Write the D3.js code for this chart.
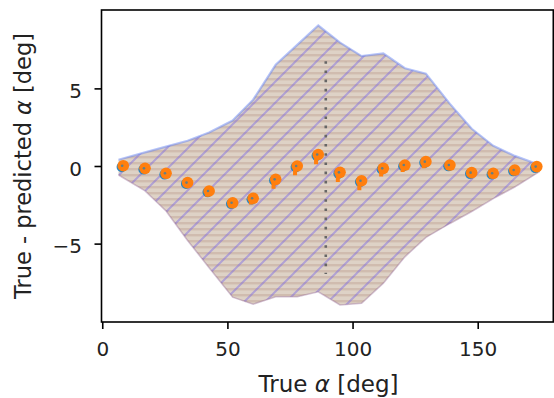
<!DOCTYPE html>
<html>
<head>
<meta charset="utf-8">
<script src="https://cdn.jsdelivr.net/npm/d3@7"></script>
<style>
  body { margin: 0; background: #fff; }
  svg { display: block; }
  text { font-family: "DejaVu Sans", sans-serif; }
</style>
</head>
<body>
<svg id="chart" width="554" height="398"></svg>
<script>
// Binned residuals: mean of (true - predicted) per true-angle bin
const meanX    = [8.4, 17.1, 25.5, 34.1, 42.7, 52.1, 60.3, 69.3, 77.9, 86.3, 95.0, 103.6, 112.3, 120.9, 129.3, 138.9, 147.6, 156.2, 164.8, 173.6];
const meanY    = [0.02, -0.15, -0.47, -1.07, -1.61, -2.37, -2.08, -0.86, 0.0, 0.74, -0.41, -0.95, -0.15, 0.06, 0.28, 0.06, -0.43, -0.47, -0.26, -0.04];
const meanErrLow = [0.2, 0.2, 0.25, 0.25, 0.37, 0.3, 0.4, 0.6, 0.6, 0.62, 0.62, 0.62, 0.52, 0.45, 0.42, 0.2, 0.2, 0.2, 0.2, 0.2];

// Second estimator (drawn underneath)
const altX = [7.8, 16.5, 24.9, 33.5, 42.1, 51.5, 59.7, 68.7, 77.3, 85.7, 94.4, 103.0, 111.7, 120.3, 128.7, 138.3, 147.0, 155.6, 164.2, 173.0];
const altY = [-0.06, -0.22, -0.54, -1.14, -1.68, -2.44, -2.15, -0.93, -0.07, 0.67, -0.48, -1.02, -0.22, -0.01, 0.21, -0.01, -0.5, -0.54, -0.33, -0.11];

// Spread envelope of the residuals
const bandX     = [6.5, 17.1, 25.5, 34.1, 42.7, 52.1, 60.3, 69.3, 77.9, 86.3, 95.0, 103.6, 112.3, 120.9, 129.3, 138.9, 147.6, 156.2, 164.8, 174.8];
const bandUpper = [0.40, 0.88, 1.25, 1.63, 2.16, 2.93, 4.27, 6.52, 7.80, 9.05, 7.95, 7.08, 7.25, 6.30, 5.95, 4.00, 2.40, 1.30, 0.65, 0.07];
const bandLower = [-0.58, -1.60, -2.90, -4.80, -6.55, -8.45, -8.90, -8.42, -8.42, -8.10, -8.95, -8.84, -7.55, -5.85, -4.60, -3.70, -2.93, -2.10, -1.35, -0.35];

// Reference line
const dividerX = 89.3;
const dividerSpan = [-6.95, 6.75];

const xTicks = [0, 50, 100, 150];
const yTicks = [-5, 0, 5];
const xDomain = [-0.3, 180.2];
const yDomain = [-10.05, 10.05];

const svg = d3.select("#chart");
const plot = { left: 101.5, right: 553.3, top: 10, bottom: 322 };

const x = d3.scaleLinear().domain(xDomain).range([plot.left, plot.right]);
const y = d3.scaleLinear().domain(yDomain).range([plot.bottom, plot.top]);

const defs = svg.append("defs");
defs.append("clipPath").attr("id", "plotClip")
  .append("rect")
  .attr("x", plot.left).attr("y", plot.top)
  .attr("width", plot.right - plot.left).attr("height", plot.bottom - plot.top);

// Horizontal hatch for the orange envelope
const hpat = defs.append("pattern").attr("id", "hatchH")
  .attr("patternUnits", "userSpaceOnUse").attr("width", 12).attr("height", 6);
hpat.append("rect").attr("x", 0).attr("y", 0).attr("width", 12).attr("height", 2.4)
  .attr("fill", "rgba(160,110,90,0.22)");

// Diagonal hatch for the blue envelope
const dSp = 21;
const dpat = defs.append("pattern").attr("id", "hatchD")
  .attr("patternUnits", "userSpaceOnUse").attr("width", dSp).attr("height", dSp);
dpat.append("path")
  .attr("d", `M${-dSp},${dSp} L${dSp},${-dSp} M0,${dSp * 2} L${dSp * 2},0 M0,${dSp} L${dSp},0`)
  .attr("stroke", "rgba(115,95,230,0.42)").attr("stroke-width", 2).attr("fill", "none");

const bandData = bandX.map((v, i) => ({ x: v, lo: bandLower[i], hi: bandUpper[i] }));
const area = d3.area().x(d => x(d.x)).y0(d => y(d.lo)).y1(d => y(d.hi));
const lowerLine = d3.line().x(d => x(d.x)).y(d => y(d.lo));
const upperLine = d3.line().x(d => x(d.x)).y(d => y(d.hi));

const g = svg.append("g").attr("clip-path", "url(#plotClip)");

// blue envelope
g.append("path").datum(bandData).attr("d", area)
  .attr("fill", "rgba(31,119,180,0.18)").attr("stroke", "none");
// orange envelope
g.append("path").datum(bandData).attr("d", area)
  .attr("fill", "rgba(255,127,14,0.19)").attr("stroke", "none");
g.append("path").datum(bandData).attr("d", area).attr("fill", "url(#hatchH)");
g.append("path").datum(bandData).attr("d", area).attr("fill", "url(#hatchD)");
// edges
g.append("path").datum(bandData).attr("d", upperLine)
  .attr("fill", "none").attr("stroke", "rgba(105,135,245,0.5)").attr("stroke-width", 2.2);
g.append("path").datum(bandData).attr("d", lowerLine)
  .attr("fill", "none").attr("stroke", "rgba(150,105,150,0.4)").attr("stroke-width", 1.6);

// reference line
g.append("line")
  .attr("x1", x(dividerX)).attr("x2", x(dividerX))
  .attr("y1", y(dividerSpan[1])).attr("y2", y(dividerSpan[0]))
  .attr("stroke", "#666").attr("stroke-width", 2.6)
  .attr("stroke-dasharray", "2.6 6.6");

// second estimator markers
g.selectAll("circle.alt").data(altX).join("circle").attr("class", "alt")
  .attr("cx", (d) => x(d)).attr("cy", (d, i) => y(altY[i]))
  .attr("r", 5.2).attr("fill", "#2b86c0");

// mean residual error stems
g.selectAll("line.stem").data(meanX).join("line").attr("class", "stem")
  .attr("x1", d => x(d) - 2.2).attr("x2", d => x(d) - 2.2)
  .attr("y1", (d, i) => y(meanY[i]))
  .attr("y2", (d, i) => y(meanY[i] - meanErrLow[i]))
  .attr("stroke", "#ff7f0e").attr("stroke-width", 4);

g.selectAll("circle.mean").data(meanX).join("circle").attr("class", "mean")
  .attr("cx", d => x(d)).attr("cy", (d, i) => y(meanY[i]))
  .attr("r", 5.8).attr("fill", "#ff7f0e");

// inner dots
g.selectAll("circle.dot").data(altX).join("circle").attr("class", "dot")
  .attr("cx", d => x(d) + 0.4).attr("cy", (d, i) => y(meanY[i]))
  .attr("r", 1.3).attr("fill", "#3b7fa6").attr("opacity", 0.8);

// spines
svg.append("rect")
  .attr("x", plot.left).attr("y", plot.top)
  .attr("width", plot.right - plot.left).attr("height", plot.bottom - plot.top)
  .attr("fill", "none").attr("stroke", "#000").attr("stroke-width", 1.6);

// axes
const xAxis = d3.axisBottom(x).tickValues(xTicks).tickSize(7).tickPadding(13)
  .tickFormat(d3.format("d"));
const yAxis = d3.axisLeft(y).tickValues(yTicks).tickSize(7).tickPadding(12.5)
  .tickFormat(d => d < 0 ? "\u2212" + Math.abs(d) : String(d));

const gx = svg.append("g").attr("transform", `translate(0,${plot.bottom})`).call(xAxis);
const gy = svg.append("g").attr("transform", `translate(${plot.left},0)`).call(yAxis);
[gx, gy].forEach(a => {
  a.select(".domain").remove();
  a.selectAll(".tick line").attr("stroke", "#000").attr("stroke-width", 1.6);
  a.selectAll(".tick text").attr("font-size", 20).attr("fill", "#222")
    .attr("font-family", "DejaVu Sans");
});
gy.selectAll(".tick text").attr("dy", "0.46em");

// axis labels
const xl = svg.append("text")
  .attr("x", 328.5).attr("y", 392)
  .attr("text-anchor", "middle").attr("font-size", 23).attr("fill", "#222");
xl.append("tspan").text("True ");
xl.append("tspan").attr("font-style", "italic").text("\u03b1");
xl.append("tspan").text(" [deg]");

const yl = svg.append("text")
  .attr("transform", `translate(31,${(plot.top + plot.bottom) / 2}) rotate(-90)`)
  .attr("text-anchor", "middle").attr("font-size", 22.5).attr("fill", "#222");
yl.append("tspan").text("True - predicted ");
yl.append("tspan").attr("font-style", "italic").text("\u03b1");
yl.append("tspan").text(" [deg]");
</script>
</body>
</html>
